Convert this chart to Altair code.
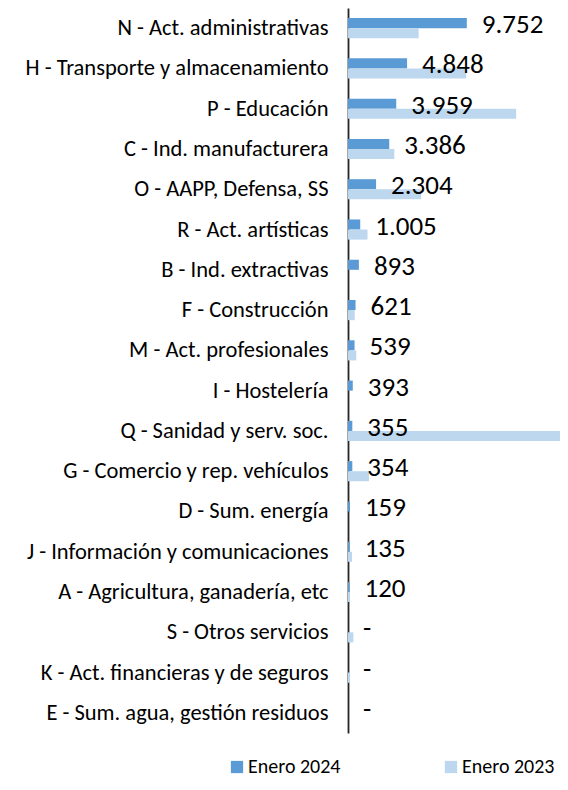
import altair as alt
import pandas as pd

categories = [
    "N - Act. administrativas",
    "H - Transporte y almacenamiento",
    "P - Educación",
    "C - Ind. manufacturera",
    "O - AAPP, Defensa, SS",
    "R - Act. artísticas",
    "B - Ind. extractivas",
    "F - Construcción",
    "M - Act. profesionales",
    "I - Hostelería",
    "Q - Sanidad y serv. soc.",
    "G - Comercio y rep. vehículos",
    "D - Sum. energía ",
    "J - Información y comunicaciones",
    "A - Agricultura, ganadería, etc",
    "S - Otros servicios",
    "K - Act. financieras y de seguros",
    "E - Sum. agua, gestión residuos",
]
enero_2024 = [9752, 4848, 3959, 3386, 2304, 1005, 893, 621, 539, 393, 355, 354, 159, 135, 120, 0, 0, 0]
enero_2023 = [5800, 9700, 13800, 3800, 6000, 1600, 0, 550, 680, 0, 18500, 1720, 0, 330, 150, 440, 160, 0]
series = ["Enero 2024", "Enero 2023"]
colors = ["#5B9BD5", "#BDD7EE"]

FONT = "Calibri, Carlito, Lato, sans-serif"

rows = []
for c, a, b in zip(categories, enero_2024, enero_2023):
    rows.append({"cat": c, "serie": series[0], "valor": a})
    rows.append({"cat": c, "serie": series[1], "valor": b})
df = pd.DataFrame(rows)

lab = pd.DataFrame({
    "cat": categories,
    "valor": enero_2024,
    "texto": [f"{v:,}".replace(",", ".") if v > 0 else "-" for v in enero_2024],
})

yenc = alt.Y("cat:N", sort=categories, title=None,
             scale=alt.Scale(paddingInner=0.5, paddingOuter=0.25),
             axis=alt.Axis(ticks=False, labelPadding=20, labelFontSize=22.5, labelFont=FONT,
                           labelColor="#000000", labelLimit=400, domainColor="#262626",
                           domainWidth=1.8))
xscale = alt.Scale(domain=[0, 17400], nice=False)

bars = alt.Chart(df).mark_bar(clip=True).encode(
    y=yenc,
    yOffset=alt.YOffset("serie:N", sort=series),
    x=alt.X("valor:Q", scale=xscale, axis=None),
    color=alt.Color("serie:N", sort=series,
                    scale=alt.Scale(domain=series, range=colors),
                    legend=alt.Legend(title=None, orient="none", legendX=-121, legendY=749,
                                      direction="horizontal", columns=2, columnPadding=100,
                                      symbolType="square", symbolSize=150, symbolStrokeWidth=0,
                                      labelFontSize=20, labelFont=FONT, labelColor="#000000",
                                      labelOffset=1, padding=0)),
)

text = alt.Chart(lab).mark_text(align="left", baseline="middle", dx=15, dy=-3,
                                fontSize=27, font=FONT, color="#000000").encode(
    y=alt.Y("cat:N", sort=categories),
    x=alt.X("valor:Q", scale=xscale),
    text="texto:N",
)

chart = alt.layer(bars, text).properties(
    width=212, height=725,
    autosize=alt.AutoSizeParams(type="none"),
    padding={"left": 340, "top": 0, "right": 0, "bottom": 49},
).configure_view(stroke=None)

chart.save("out.html", embed_options={"renderer": "svg", "actions": False})
